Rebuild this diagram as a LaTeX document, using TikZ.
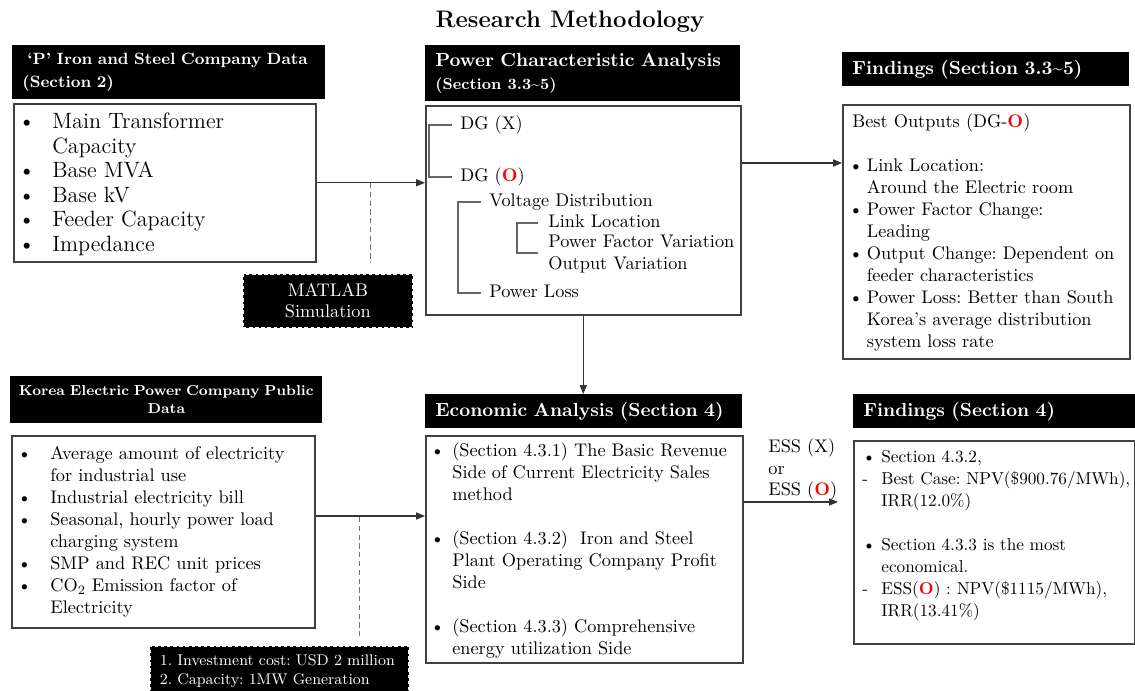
\documentclass[tikz,border=0pt]{standalone}
\usepackage{xcolor}
\usetikzlibrary{arrows.meta,positioning}

\newcommand{\txtfont}{\fontsize{10.4}{12.5}\selectfont}
\newcommand{\bul}[1]{\makebox[#1][l]{\textbullet}}
\newcommand{\dsh}[1]{\makebox[#1][l]{-}}
\newcommand{\redO}{\textcolor{red}{\textbf{O}}}

\tikzset{
  head/.style={fill=black, text=white, anchor=north west, inner xsep=0.2cm, inner ysep=0pt, align=left},
  box/.style={draw=black!75, line width=0.9pt, anchor=north west, inner sep=0pt},
  txt/.style={anchor=north west, inner sep=0pt, font=\txtfont},
  tree/.style={anchor=west, inner sep=0pt, font=\txtfont, text height=7pt, text depth=2pt},
  tline/.style={black!60, line width=0.6pt},
  dbox/.style={fill=black, draw=white, dash pattern=on 2pt off 1.5pt, line width=1pt, text=white, anchor=north west},
  arr/.style={-{Triangle[length=5pt,width=4pt]}, black!80, line width=0.6pt},
  dline/.style={black!55, line width=0.5pt, dash pattern=on 3pt off 2pt},
}

\begin{document}
\frenchspacing
\begin{tikzpicture}[x=0.02cm, y=-0.02cm]
\useasboundingbox (0,0) rectangle (1135,690);

\node[font=\fontsize{13.6}{16}\selectfont\bfseries] (title) at (570,22) {Research Methodology};

% company data
\node[head, minimum height=1.08cm, text width=5.86cm, font=\fontsize{9.3}{13}\selectfont\bfseries] (hdA) at (12,45)
  {\hspace*{0.1cm}\textquoteleft P\textquoteright\ Iron and Steel Company Data\\(Section 2)};
\node[box, minimum width=6.04cm, minimum height=3.16cm] (bodyA) at (13,103) {};
\node[txt, font=\fontsize{12.6}{14}\selectfont] (txtA) at (18,111) {%
  \begin{tabular}{@{}l@{}l@{}}
  \bul{0.68cm} & Main Transformer\\
   & Capacity\\
  \bul{0.68cm} & Base MVA\\
  \bul{0.68cm} & Base kV\\
  \bul{0.68cm} & Feeder Capacity\\
  \bul{0.68cm} & Impedance
  \end{tabular}};
\node[dbox, minimum width=3.4cm, minimum height=1.08cm, align=center, font=\fontsize{10.4}{12}\selectfont] (matlab) at (242,273) {MATLAB\\Simulation};

% power characteristic
\node[head, minimum height=1.12cm, text width=5.9cm, font=\fontsize{10.8}{13}\selectfont\bfseries] (hdB) at (425,45)
  {Power Characteristic Analysis\\{\fontsize{8.9}{13}\selectfont (Section 3.3\textasciitilde 5)}};
\node[box, minimum width=6.3cm, minimum height=4.18cm] (bodyB) at (425,105) {};
\node[tree] (dgx) at (460,125) {DG (X)};
\node[tree] (dgo) at (460,177) {DG (\redO)};
\node[tree] (vd) at (489,202) {Voltage Distribution};
\node[tree] (ll) at (548,223) {Link Location};
\node[tree] (pfv) at (548,243) {Power Factor Variation};
\node[tree] (ov) at (548,265) {Output Variation};
\node[tree] (pl) at (489,293) {Power Loss};
\draw[tline] ([xshift=-0.16cm]dgx.west) -| ([xshift=-0.62cm]dgo.west) -- ([xshift=-0.16cm]dgo.west);
\draw[tline] ([xshift=-0.16cm]vd.west) -| ([xshift=-0.62cm]pl.west) -- ([xshift=-0.16cm]pl.west);
\draw[tline] ([xshift=-0.2cm]ll.west) -| ([xshift=-0.62cm,yshift=-0.2cm]pfv.west) -- ([xshift=-0.2cm,yshift=-0.2cm]pfv.west);

% findings 3.3~5
\node[head, minimum height=0.68cm, text width=5.34cm, font=\fontsize{10.8}{13}\selectfont\bfseries] (hdF1) at (842,52)
  {Findings (Section 3.3\textasciitilde 5)};
\node[box, minimum width=5.74cm, minimum height=5.08cm] (bodyF1) at (842,104) {};
\node[txt] (txtF1) at (852,112) {%
  \begin{tabular}{@{}l@{}l@{}}
  \multicolumn{2}{@{}l@{}}{Best Outputs (DG-\redO)}\\
   & \\
  \hspace*{-2pt}\bul{0.36cm} & Link Location:\\
   & Around the Electric room\\
  \hspace*{-2pt}\bul{0.36cm} & Power Factor Change:\\
   & Leading\\
  \hspace*{-2pt}\bul{0.36cm} & Output Change: Dependent on\\
   & feeder characteristics\\
  \hspace*{-2pt}\bul{0.36cm} & Power Loss: Better than South\\
   & Korea\textquoteright s average distribution\\
   & system loss rate
  \end{tabular}};

% KEPCO data
\node[head, minimum height=0.94cm, inner xsep=0.1cm, text width=6.04cm, align=center, font=\fontsize{8.2}{10.2}\selectfont\bfseries] (hdD) at (10,376)
  {Korea Electric Power Company Public\\Data};
\node[box, minimum width=6.06cm, minimum height=3.84cm] (bodyD) at (11,435) {};
\node[txt] (txtD) at (17,444) {%
  \begin{tabular}{@{}l@{}l@{}}
  \bul{0.66cm} & Average amount of electricity\\
   & for industrial use\\
  \bul{0.66cm} & Industrial electricity bill\\
  \bul{0.66cm} & Seasonal, hourly power load\\
   & charging system\\
  \bul{0.66cm} & SMP and REC unit prices\\
  \bul{0.66cm} & CO\textsubscript{2} Emission factor of\\
   & Electricity
  \end{tabular}};
\node[dbox, minimum height=1.0cm, inner xsep=0.2cm, text width=4.78cm, align=left, font=\fontsize{8.8}{10.6}\selectfont] (invest) at (149,645)
  {1. Investment cost: USD 2 million\\2. Capacity: 1MW Generation};

% economic analysis
\node[head, minimum height=0.68cm, text width=5.94cm, font=\fontsize{10.8}{13}\selectfont\bfseries] (hdE) at (425,394)
  {Economic Analysis (Section 4)};
\node[box, minimum width=6.34cm, minimum height=4.54cm] (bodyE) at (425,435) {};
\node[txt] (txtE) at (430,441) {%
  \begin{tabular}{@{}l@{}l@{}}
  \bul{0.44cm} & (Section 4.3.1) The Basic Revenue\\
   & Side of Current Electricity Sales\\
   & method\\
   & \\
  \bul{0.44cm} & (Section 4.3.2)\ \ Iron and Steel\\
   & Plant Operating Company Profit\\
   & Side\\
   & \\
  \bul{0.44cm} & (Section 4.3.3) Comprehensive\\
   & energy utilization Side
  \end{tabular}};
\node[txt, align=left] (ess) at (768,438) {ESS (X)\\or\\ESS (\redO)};

% findings 4
\node[head, minimum height=0.68cm, text width=5.24cm, font=\fontsize{10.8}{13}\selectfont\bfseries] (hdF2) at (853,394)
  {Findings (Section 4)};
\node[box, minimum width=5.62cm, minimum height=4.06cm] (bodyF2) at (853,440) {};
\node[txt, font=\fontsize{9.8}{12.5}\selectfont] (txtF2) at (862,447) {%
  \begin{tabular}{@{}l@{}l@{}}
  \bul{0.38cm} & Section 4.3.2,\\
  \dsh{0.38cm} & Best Case: NPV(\$900.76/MWh),\\
   & IRR(12.0\%)\\
   & \\
  \bul{0.38cm} & Section 4.3.3 is the most\\
   & economical.\\
  \dsh{0.38cm} & ESS(\redO) : NPV(\$1115/MWh),\\
   & IRR(13.41\%)
  \end{tabular}};

% connectors
\draw[arr] (bodyA.east) -- (bodyA.east -| bodyB.west);
\coordinate (ma) at (370,183);
\draw[dline] (ma) -- (ma |- bodyA.south);
\coordinate (bf) at ([yshift=-1.16cm]bodyB.north east);
\draw[arr] (bf) -- (bf -| bodyF1.west);
\draw[arr] (bodyB.south) -- (bodyB.south |- hdE.north);
\coordinate (de) at ([yshift=-1.62cm]bodyD.north east);
\draw[arr] (de) -- (de -| bodyE.west);
\coordinate (ia) at (359,517);
\draw[dline] (ia) -- ++(0,120);
\coordinate (ee) at ([yshift=-1.34cm]bodyE.north east);
\draw[arr] (ee) -- ([xshift=-0.3cm]ee -| bodyF2.west);
\end{tikzpicture}
\end{document}
